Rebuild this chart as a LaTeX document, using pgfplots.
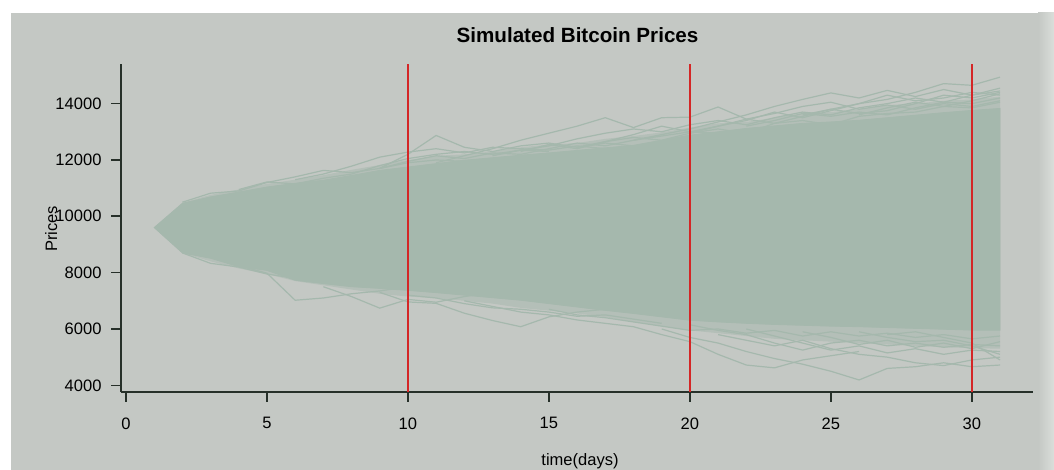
\documentclass[border=0pt]{standalone}
\usepackage{pgfplots}
\pgfplotsset{compat=1.18}
\usepackage{fontspec}
\setmainfont{Liberation Sans}

\definecolor{panel}{RGB}{196,200,196}
\definecolor{paneledge}{RGB}{218,222,218}
\definecolor{pathc}{RGB}{165,184,173}
\definecolor{axisc}{RGB}{38,48,41}
\definecolor{markc}{RGB}{212,38,38}

\pgfplotsset{
  simpath/.style={draw=pathc, line width=1.2bp, mark=none, solid, sharp plot},
  dayline/.style={draw=markc, line width=1.8bp, mark=none, solid},
}

\begin{document}
\begin{tikzpicture}[x=1bp,y=1bp]
\useasboundingbox (0,0) rectangle (1054,470);
\fill[white] (0,0) rectangle (1054,470);
\fill[panel] (11,0) rectangle (1054,457);
\shade[left color=panel,right color=paneledge] (1038,0) rectangle (1054,457);

\begin{axis}[
  at={(121bp,78bp)}, anchor=south west,
  scale only axis, width=912bp, height=328bp,
  xmin=-0.177, xmax=32.17, ymin=3763, ymax=15407,
  axis x line*=bottom, axis y line*=left,
  axis line style={line width=1.6bp, color=axisc, -},
  xtick={0,5,...,30}, ytick={4000,6000,...,14000},
  tick align=outside, major tick length=10bp,
  tick style={line width=1.6bp, color=axisc},
  ticklabel style={font=\fontsize{16.6}{18}\selectfont, text=black},
  xticklabel style={yshift=-12bp},
  yticklabel style={xshift=-6bp, /pgf/number format/1000 sep={}},
  /pgf/number format/assume math mode=true,
  scaled y ticks=false,
  clip=true,
]
% loosely packed paths near the edges of the bundle
\addplot[fill=pathc, fill opacity=0.5, draw=none, mark=none] coordinates {
 (1,9600) (2,10480) (3,10760) (4,10950) (5,11150) (6,11300) (7,11460) (8,11650)
 (9,11820) (10,12000) (11,12150) (12,12200) (13,12300) (14,12450) (15,12550)
 (16,12600) (17,12750) (18,12850) (19,12980) (20,13150) (21,13300) (22,13350)
 (23,13500) (24,13650) (25,13700) (26,13800) (27,13950) (28,14000) (29,14100)
 (30,14150) (31,14250)
 (31,5300) (30,5320) (29,5350) (28,5400) (27,5450) (26,5500) (25,5550) (24,5600)
 (23,5650) (22,5750) (21,5850) (20,5950) (19,6100) (18,6250) (17,6420) (16,6550)
 (15,6650) (14,6750) (13,6900) (12,7000) (11,7100) (10,7150) (9,7250) (8,7400)
 (7,7550) (6,7700) (5,7950) (4,8150) (3,8400) (2,8700) (1,9600)
} -- cycle;
% densely packed bulk of the paths
\addplot[fill=pathc, draw=pathc, line width=0.8bp, mark=none] coordinates {
 (1,9600) (2,10460) (3,10690) (4,10860) (5,11040) (6,11170) (7,11280) (8,11450)
 (9,11630) (10,11750) (11,11870) (12,11990) (13,12080) (14,12170) (15,12250)
 (16,12340) (17,12430) (18,12520) (19,12700) (20,12880) (21,13000) (22,13120)
 (23,13210) (24,13300) (25,13350) (26,13410) (27,13500) (28,13590) (29,13680)
 (30,13760) (31,13830)
 (31,5960) (30,5960) (29,5990) (28,6020) (27,6050) (26,6080) (25,6100) (24,6130)
 (23,6160) (22,6200) (21,6250) (20,6310) (19,6430) (18,6550) (17,6660) (16,6780)
 (15,6900) (14,7020) (13,7110) (12,7200) (11,7290) (10,7370) (9,7440) (8,7500)
 (7,7610) (6,7730) (5,8080) (4,8210) (3,8510) (2,8700) (1,9600)
} -- cycle;

% upper outlying paths
\addplot[simpath] coordinates {(9,11700) (10,12200) (11,12870) (12,12450) (13,12300) (14,12500) (15,12600) (16,12450) (17,12600) (18,12500)};
\addplot[simpath] coordinates {(11,11900) (12,12150) (13,12400) (14,12700) (15,12950) (16,13200) (17,13500) (18,13150) (19,13500) (20,13520) (21,13880) (22,13450) (23,13650) (24,13900) (25,14050) (26,13800) (27,13950) (28,13800) (29,14000) (30,13900) (31,14100)};
\addplot[simpath] coordinates {(18,12700) (19,12900) (20,13100) (21,13350) (22,13600) (23,13900) (24,14150) (25,14380) (26,14200) (27,14470) (28,14250) (29,14500) (30,14300) (31,14550)};
\addplot[simpath] coordinates {(24,13600) (25,13800) (26,14000) (27,14150) (28,14400) (29,14710) (30,14650) (31,14940)};
\addplot[simpath] coordinates {(13,12150) (14,12350) (15,12500) (16,12750) (17,12950) (18,13100) (19,13000) (20,13250) (21,13400) (22,13250) (23,13500) (24,13700) (25,13600) (26,13850) (27,14000) (28,14200) (29,14050) (30,14300) (31,14450)};
\addplot[simpath] coordinates {(16,12450) (17,12650) (18,12900) (19,13200) (20,13000) (21,13200) (22,13450) (23,13300) (24,13550) (25,13800) (26,13650) (27,13750) (28,14000) (29,14300) (30,14200) (31,14400)};
\addplot[simpath] coordinates {(6,11300) (7,11500) (8,11780) (9,12100) (10,12280) (11,12400) (12,12250) (13,12450) (14,12400) (15,12350) (16,12500) (17,12400)};
\addplot[simpath] coordinates {(2,10500) (3,10820) (4,10900) (5,11200) (6,11400) (7,11630) (8,11550) (9,11700) (10,11900) (11,12000) (12,11950)};
\addplot[simpath] coordinates {(4,10950) (5,11220) (6,11150) (7,11350) (8,11500) (9,11800) (10,12050) (11,12200) (12,12300) (13,12200) (14,12350) (15,12300)};
\addplot[simpath] coordinates {(20,12950) (21,13200) (22,13400) (23,13700) (24,13500) (25,13750) (26,14000) (27,14300) (28,14100) (29,14200) (30,14400) (31,14300)};
\addplot[simpath] coordinates {(22,13200) (23,13400) (24,13650) (25,13550) (26,13700) (27,13600) (28,13850) (29,14050) (30,14000) (31,14200)};
\addplot[simpath] coordinates {(14,12300) (15,12550) (16,12400) (17,12650) (18,12800) (19,12700) (20,12950) (21,13100) (22,12950) (23,13300) (24,13400) (25,13250) (26,13550) (27,13650) (28,13700) (29,13900) (30,13850) (31,14050)};
\addplot[simpath] coordinates {(26,13600) (27,13850) (28,14050) (29,13900) (30,14100) (31,14350)};
\addplot[simpath] coordinates {(9,11700) (10,11950) (11,12150) (12,12050) (13,12250) (14,12200) (15,12400) (16,12600) (17,12500) (18,12700) (19,12850) (20,13000) (21,12950)};

% lower outlying paths
\addplot[simpath] coordinates {(4,8250) (5,7980) (6,7020) (7,7100) (8,7250) (9,7350) (10,7500)};
\addplot[simpath] coordinates {(7,7500) (8,7150) (9,6740) (10,7050) (11,6950) (12,7150) (13,7300)};
\addplot[simpath] coordinates {(9,7300) (10,6960) (11,6910) (12,6560) (13,6300) (14,6080) (15,6430) (16,6600) (17,6700)};
\addplot[simpath] coordinates {(12,7000) (13,6800) (14,6600) (15,6500) (16,6320) (17,6200) (18,6080) (19,5800) (20,5550) (21,5100) (22,4720) (23,4620) (24,4900) (25,5050) (26,5200)};
\addplot[simpath] coordinates {(19,6000) (20,5700) (21,5500) (22,5200) (23,4950) (24,4750) (25,4500) (26,4190) (27,4600) (28,4660) (29,4800) (30,4660) (31,4720)};
\addplot[simpath] coordinates {(21,5800) (22,5600) (23,5400) (24,5600) (25,5300) (26,5100) (27,5000) (28,4800) (29,4700) (30,4900) (31,5000)};
\addplot[simpath] coordinates {(22,6000) (23,5750) (24,5500) (25,5250) (26,5400) (27,5150) (28,5300) (29,5100) (30,5250) (31,5200)};
\addplot[simpath] coordinates {(20,6150) (21,5950) (22,5800) (23,5500) (24,5250) (25,5500) (26,5600) (27,5400) (28,5500) (29,5350) (30,5450) (31,5400)};
\addplot[simpath] coordinates {(24,5900) (25,5700) (26,5450) (27,5600) (28,5350) (29,5500) (30,5300) (31,5550)};
\addplot[simpath] coordinates {(15,6700) (16,6500) (17,6400) (18,6250) (19,6100) (20,5950) (21,6000) (22,5850) (23,5950) (24,5750) (25,5900) (26,5750) (27,5850) (28,5700) (29,5800) (30,5650) (31,5750)};
\addplot[simpath] coordinates {(26,5900) (27,5700) (28,5550) (29,5600) (30,5400) (31,5100)};
\addplot[simpath] coordinates {(10,7200) (11,7100) (12,6900) (13,6750) (14,6700) (15,6600) (16,6450) (17,6500) (18,6350) (19,6200)};
\addplot[simpath] coordinates {(2,8700) (3,8330) (4,8200) (5,7950) (6,7800) (7,7650) (8,7550)};
\addplot[simpath] coordinates {(27,5800) (28,5900) (29,5700) (30,5500) (31,4900)};

% marker lines at days 10, 20 and 30
\addplot[dayline] coordinates {(10,3763) (10,15407)};
\addplot[dayline] coordinates {(20,3763) (20,15407)};
\addplot[dayline] coordinates {(30,3763) (30,15407)};
\end{axis}

\node[anchor=base, font=\fontsize{20.7}{24}\selectfont\bfseries] at (577.5,427) {Simulated Bitcoin Prices};
\node[anchor=base, font=\fontsize{16.6}{18}\selectfont, inner sep=0pt] at (580,4) {time(days)};
\node[anchor=base, rotate=90, font=\fontsize{16.6}{18}\selectfont, inner sep=0pt] at (57,241) {Prices};
\end{tikzpicture}
\end{document}
